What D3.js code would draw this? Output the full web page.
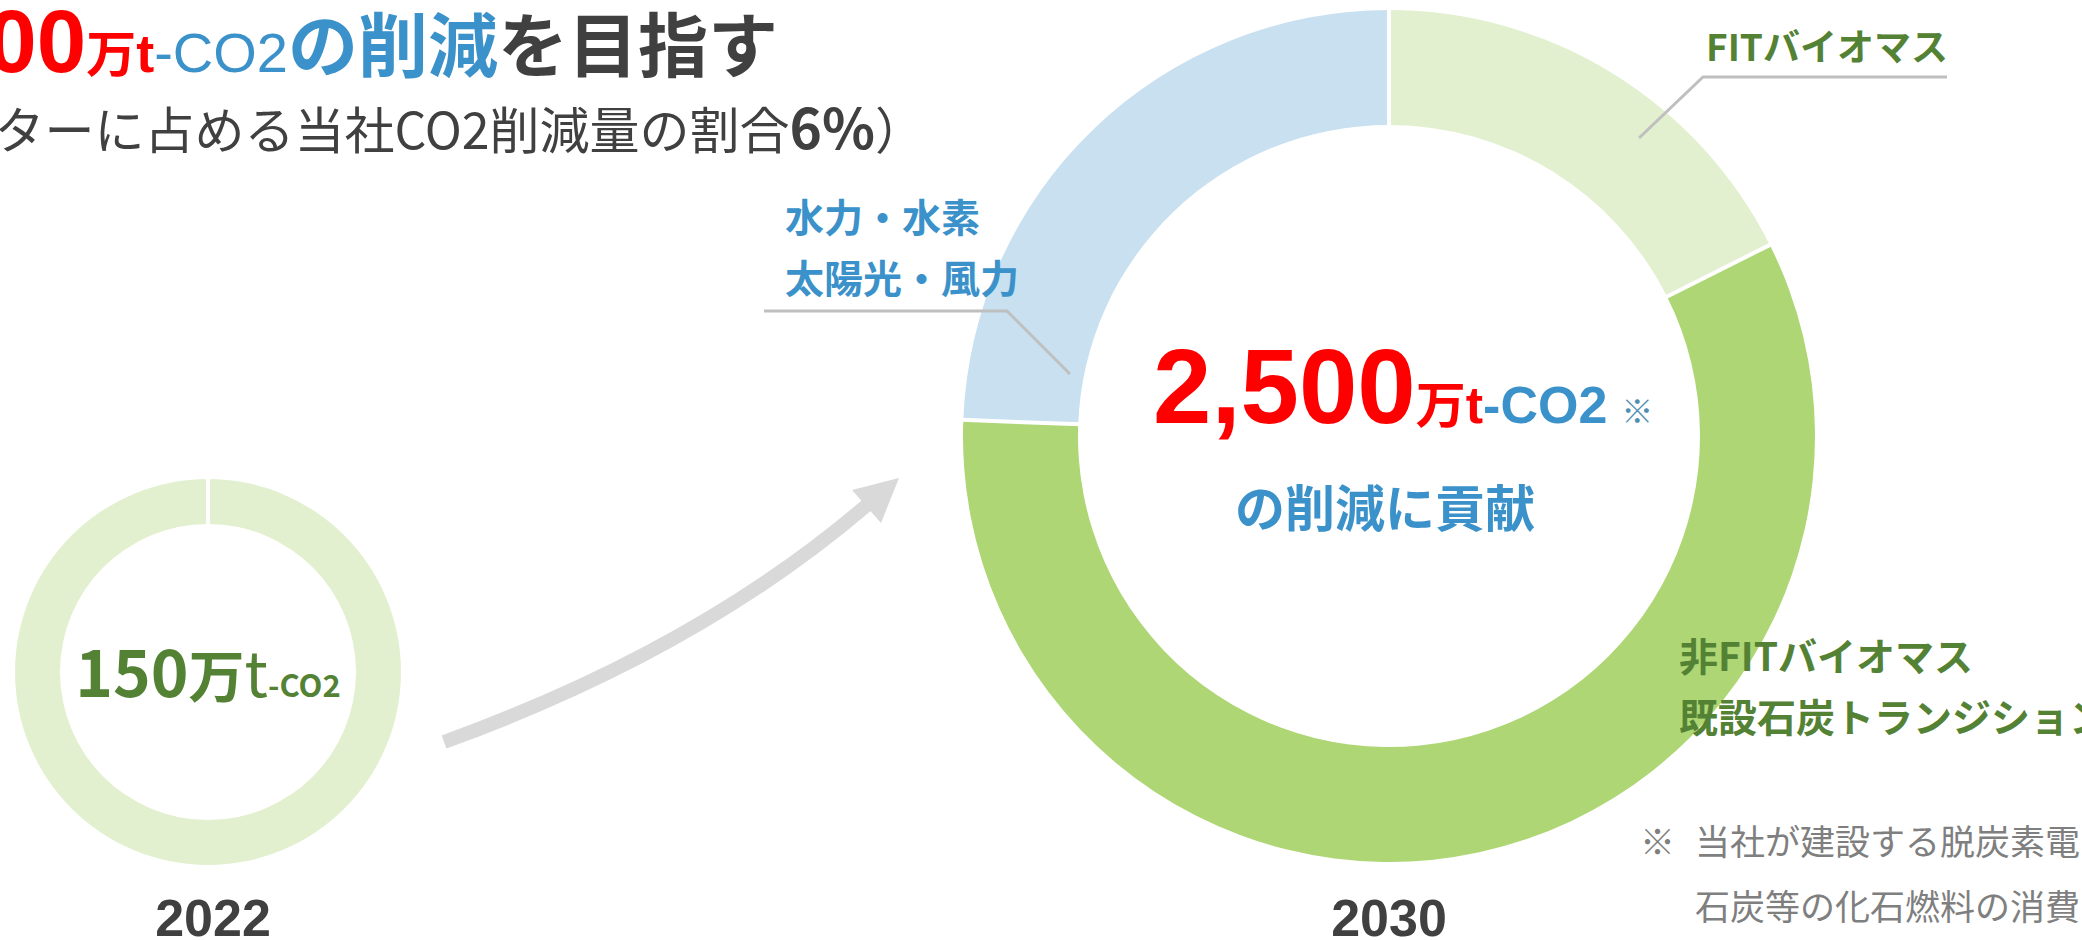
<!DOCTYPE html>
<html>
<head>
<meta charset="utf-8">
<script src="https://cdn.jsdelivr.net/npm/d3@7"></script>
<style>
  body { margin: 0; background: #fff; overflow: hidden; }
  svg { display: block; }
</style>
</head>
<body>
<div class="chart"></div>
<script>
// ---- data (万t-CO2) ----
var years = ["2022", "2030"];
var values2022 = [150];
var categories2030 = ["FITバイオマス", "非FITバイオマス・既設石炭トランジション", "水力・水素・太陽光・風力"];
var values2030 = [440, 1450, 610];
var labelLines2030 = [["FITバイオマス"], ["非FITバイオマス", "既設石炭トランジション"], ["水力・水素", "太陽光・風力"]];

var width = 2082, height = 940;
var jp = "'Noto Sans CJK JP', 'Noto Sans', sans-serif";
var latin = "'Liberation Sans', Arial, sans-serif";

var colors = {
    light: "#e2f0d0",
    mid: "#aed674",
    blue: "#c8e0f0",
    green: "#548235",
    blueText: "#3b91c9",
    red: "#ff0000",
    dark: "#404040",
    line: "#bfbfbf",
    arrow: "#d9d9d9",
    note: "#7f7f7f"
};
var sliceColors2030 = [colors.light, colors.mid, colors.blue];

var svg = d3.select("div.chart")
    .append("svg")
    .attr("width", width)
    .attr("height", height);

var pie = d3.pie().sort(null).value(function (d) { return d; });

// draws a ring with white separators at each slice start
var drawRing = function (values, fills, cx, cy, rIn, rOut) {
    var g = svg.append("g").attr("transform", "translate(" + cx + "," + cy + ")");
    var arc = d3.arc().innerRadius(rIn).outerRadius(rOut);
    var slices = pie(values);
    g.selectAll("path.slice")
        .data(slices)
        .enter().append("path")
        .attr("class", "slice")
        .attr("d", arc)
        .style("fill", function (d, i) { return fills[i]; });
    g.selectAll("line.sep")
        .data(slices)
        .enter().append("line")
        .attr("class", "sep")
        .attr("x1", function (d) { return (rIn - 2) * Math.sin(d.startAngle); })
        .attr("y1", function (d) { return -(rIn - 2) * Math.cos(d.startAngle); })
        .attr("x2", function (d) { return (rOut + 2) * Math.sin(d.startAngle); })
        .attr("y2", function (d) { return -(rOut + 2) * Math.cos(d.startAngle); })
        .style("stroke", "#fff")
        .style("stroke-width", 4);
    return g;
};

// ---- title ----
var title1 = svg.append("text")
    .attr("x", 778).attr("y", 72)
    .attr("text-anchor", "end");
title1.append("tspan").text(d3.format(",")(d3.sum(values2030)))
    .style("font-family", latin).style("font-weight", "bold").style("font-size", "89px").style("fill", colors.red);
title1.append("tspan").text("万")
    .style("font-family", jp).style("font-weight", "bold").style("font-size", "50px").style("fill", colors.red);
title1.append("tspan").text("t")
    .style("font-family", latin).style("font-weight", "bold").style("font-size", "54px").style("fill", colors.red);
title1.append("tspan").text("-CO2")
    .style("font-family", latin).style("font-size", "56px").style("fill", colors.blueText);
title1.append("tspan").text("の削減")
    .style("font-family", jp).style("font-weight", "bold").style("font-size", "70px").style("fill", colors.blueText);
title1.append("tspan").text("を目指す")
    .style("font-family", jp).style("font-weight", "bold").style("font-size", "70px").style("fill", colors.dark);

var title2 = svg.append("text")
    .attr("x", 925).attr("y", 149)
    .attr("text-anchor", "end")
    .style("font-family", jp).style("fill", colors.dark);
title2.append("tspan").text("（電力セクターに占める当社CO2削減量の割合").style("font-size", "50px");
title2.append("tspan").text("6%").style("font-size", "55px").style("font-weight", "bold");
title2.append("tspan").text("）").style("font-size", "50px");

// ---- 2022 ring ----
var c22 = { x: 208, y: 672 };
drawRing(values2022, [colors.light], c22.x, c22.y, 148, 193);

var t22 = svg.append("text")
    .attr("x", c22.x).attr("y", 697)
    .attr("text-anchor", "middle")
    .style("font-family", jp).style("fill", colors.green);
t22.append("tspan").text(values2022[0]).style("font-weight", "bold").style("font-size", "64px");
t22.append("tspan").text("万").style("font-weight", "bold").style("font-size", "56px");
t22.append("tspan").text("t").style("font-size", "62px");
t22.append("tspan").text("-CO2").style("font-weight", "bold").style("font-size", "31px");

// ---- 2030 ring ----
var c30 = { x: 1389, y: 436 };
drawRing(values2030, sliceColors2030, c30.x, c30.y, 311, 426);

var t30 = svg.append("text")
    .attr("x", 1153).attr("y", 423)
    .style("font-weight", "bold");
t30.append("tspan").text(d3.format(",")(d3.sum(values2030)))
    .style("font-family", latin).style("font-size", "105px").style("fill", colors.red);
t30.append("tspan").text("万")
    .style("font-family", jp).style("font-size", "50px").style("fill", colors.red);
t30.append("tspan").text("t")
    .style("font-family", latin).style("font-size", "52px").style("fill", colors.red);
t30.append("tspan").text("-CO2")
    .style("font-family", latin).style("font-size", "52px").style("fill", colors.blueText);
t30.append("tspan").text("※").attr("dx", 14)
    .style("font-family", jp).style("font-weight", "normal").style("font-size", "32px").style("fill", "#4f8fb3");

svg.append("text")
    .attr("x", 1385).attr("y", 527)
    .attr("text-anchor", "middle")
    .style("font-family", jp).style("font-weight", "bold").style("font-size", "50px")
    .style("fill", colors.blueText)
    .text("の削減に貢献");

// ---- slice labels with leader lines ----
var labelLayout = [
    { x: 1706, y: 61, size: 37, color: colors.green, leader: { angle: 40, r: 389, elbow: [1703, 77], end: 1947 } },
    { x: 1679, y: 671, size: 39, color: colors.green, leader: null },
    { x: 785, y: 232, size: 39, color: colors.blueText, leader: { angle: 281, r: 325, elbow: [1007, 311], end: 764 } }
];
var lineHeight = 61;

labelLayout.forEach(function (lay, i) {
    var txt = svg.append("text")
        .attr("x", lay.x).attr("y", lay.y)
        .style("font-family", jp).style("font-weight", "bold").style("font-size", lay.size + "px")
        .style("fill", lay.color);
    txt.selectAll("tspan")
        .data(labelLines2030[i])
        .enter().append("tspan")
        .attr("x", lay.x)
        .attr("dy", function (d, j) { return j === 0 ? 0 : lineHeight; })
        .text(function (d) { return d; });

    if (lay.leader) {
        var a = lay.leader.angle * Math.PI / 180;
        var pts = [
            [c30.x + lay.leader.r * Math.sin(a), c30.y - lay.leader.r * Math.cos(a)],
            lay.leader.elbow,
            [lay.leader.end, lay.leader.elbow[1]]
        ];
        svg.append("path")
            .attr("d", d3.line()(pts))
            .style("fill", "none")
            .style("stroke", colors.line)
            .style("stroke-width", 3);
    }
});

// ---- growth arrow ----
svg.append("path")
    .attr("d", "M444,742 Q698,650 867,505")
    .style("fill", "none")
    .style("stroke", colors.arrow)
    .style("stroke-width", 14);
svg.append("path")
    .attr("d", d3.line()([[899, 478], [852, 490], [881, 523]]) + "Z")
    .style("fill", colors.arrow);

// ---- year labels ----
svg.selectAll("text.year")
    .data(years)
    .enter().append("text")
    .attr("class", "year")
    .attr("x", function (d, i) { return i === 0 ? 213 : c30.x; })
    .attr("y", 936)
    .attr("text-anchor", "middle")
    .style("font-family", latin).style("font-weight", "bold").style("font-size", "52px")
    .style("fill", colors.dark)
    .text(function (d) { return d; });

// ---- footnote ----
var note = svg.append("g")
    .style("font-family", jp).style("font-size", "35px").style("fill", colors.note);
note.append("text").attr("x", 1640).attr("y", 855).text("※");
note.append("text").attr("x", 1695).attr("y", 855).text("当社が建設する脱炭素電");
note.append("text").attr("x", 1695).attr("y", 920).text("石炭等の化石燃料の消費");
</script>
</body>
</html>
